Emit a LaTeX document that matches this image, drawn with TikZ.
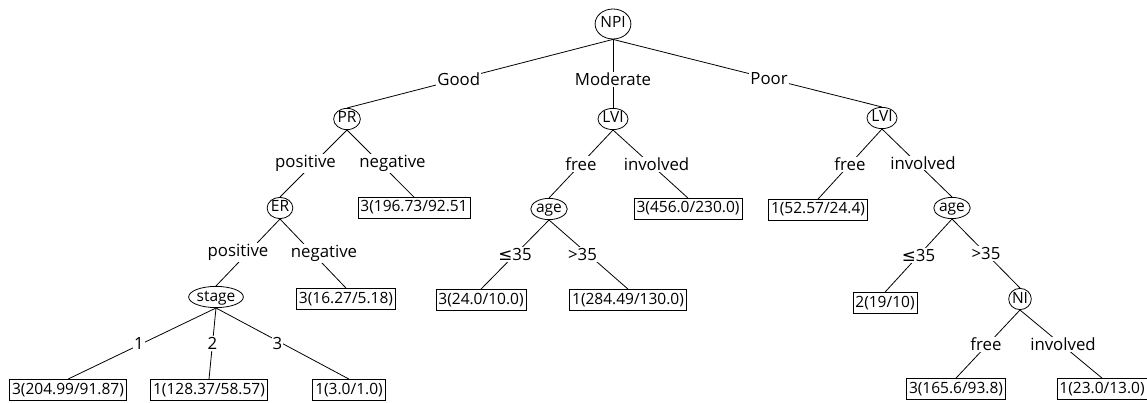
\documentclass[tikz,border=0pt]{standalone}
\usepackage{fontspec}
\setmainfont{Open Sans}
\newfontfamily\symfont{DejaVu Sans}
\usetikzlibrary{shapes.geometric}

\newcommand{\leqsign}{{\symfont ≤}}

\begin{document}
\begin{tikzpicture}[x=1pt, y=-1pt, line width=0.8pt,
    every node/.style={font=\fontsize{15.5}{18}\selectfont},
    split/.style={draw, ellipse, inner sep=0pt, text height=11.5pt, text depth=3.5pt},
    leaf/.style={draw, rectangle, inner sep=2.5pt, text height=12pt, text depth=4pt},
    lab/.style={fill=white, inner sep=1pt, font=\fontsize{16.8}{19}\selectfont}]
    \useasboundingbox (0,0) rectangle (1147,403);
    \clip (0,0) rectangle (1147,403);

    % tests
    \node[split, minimum height=30pt] (npi) at (613,24) {NPI};
    \node[split] (pr) at (347,119) {PR};
    \node[split] (lvim) at (613,119) {LVI};
    \node[split] (lvip) at (882,118) {LVI};
    \node[split] (er) at (280,208) {ER};
    \node[split] (agem) at (549,209) {age};
    \node[split] (agep) at (952,208) {age};
    \node[split] (stage) at (216,297) {stage};
    \node[split] (ni) at (1020,299) {NI};

    % leaves
    \node[leaf] (lfA) at (414,208) {3(196.73/92.51};
    \node[leaf] (lfB) at (688,209) {3(456.0/230.0)};
    \node[leaf] (lfC) at (818,210) {1(52.57/24.4)};
    \node[leaf] (lfD) at (346,299) {3(16.27/5.18)};
    \node[leaf] (lfE) at (481,300) {3(24.0/10.0)};
    \node[leaf] (lfF) at (628,300) {1(284.49/130.0)};
    \node[leaf] (lfG) at (885,303) {2(19/10)};
    \node[leaf] (lfH) at (68,390) {3(204.99/91.87)};
    \node[leaf] (lfI) at (209,390) {1(128.37/58.57)};
    \node[leaf] (lfJ) at (349,390) {1(3.0/1.0)};
    \node[leaf] (lfK) at (956,389) {3(165.6/93.8)};
    \node[leaf] (lfL) at (1102,389) {1(23.0/13.0)};

    % branches
    \foreach \a/\b/\t in {npi/pr/Good, npi/lvim/Moderate, npi/lvip/Poor}
    {
    \draw (\a.south) -- node[lab, pos=0.58]{\t} (\b.north);
    }
    \foreach \a/\b/\t/\s in {pr/er/positive/-8, pr/lfA/negative/12, lvim/agem/free/0,
        lvim/lfB/involved/6, lvip/lfC/free/0, lvip/agep/involved/6,
        er/stage/positive/-10, er/lfD/negative/11,
        agem/lfE/\leqsign35/0, agem/lfF/>35/-6, agep/lfG/\leqsign35/0, agep/ni/>35/0,
        stage/lfH/1/-3, stage/lfI/2/0, stage/lfJ/3/-5, ni/lfK/free/-2, ni/lfL/involved/2}
    {
    \draw (\a.south) -- node[lab, xshift=\s]{\t} (\b.north);
    }
\end{tikzpicture}
\end{document}
